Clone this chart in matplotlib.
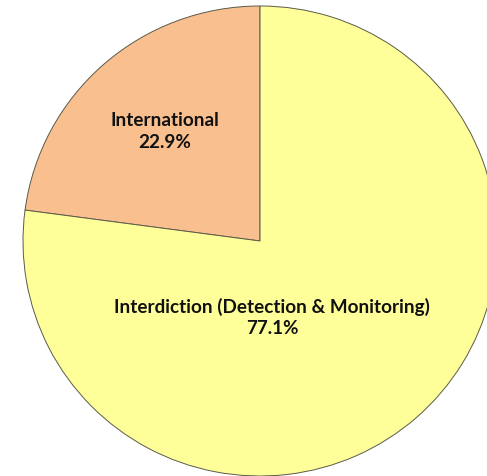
import matplotlib
matplotlib.use("Agg")
import matplotlib.pyplot as plt

# data
labels = ["International", "Interdiction (Detection & Monitoring)"]
shares = [22.9, 77.1]
colors = ["#F9BF8F", "#FFFF99"]

W, H = 487, 477
cx, cy = 260, 242      # pie centre in pixels (from top-left)
rx, ry = 237, 235      # pixels per data unit

fig = plt.figure(figsize=(W / 100, H / 100), dpi=100)
ax = fig.add_axes([0, 0, 1, 1])
ax.pie(shares, colors=colors, startangle=90, counterclock=True,
       wedgeprops=dict(edgecolor="#5a5a4a", linewidth=0.7))
ax.set_aspect("auto")
ax.set_xlim(-cx / rx, (W - cx) / rx)
ax.set_ylim(-(H - cy) / ry, cy / ry)
ax.axis("off")

# label positions (pixels from top-left)
label_pos = [(165, 131.5), (272, 317.5)]
for name, v, (px, py) in zip(labels, shares, label_pos):
    ax.text((px - cx) / rx, (cy - py) / ry, f"{name}\n{v:.1f}%",
            ha="center", va="center", fontsize=13.6, fontweight="bold",
            family="Lato", linespacing=1.34, color="#111111")

fig.savefig("out.png", dpi=100)
